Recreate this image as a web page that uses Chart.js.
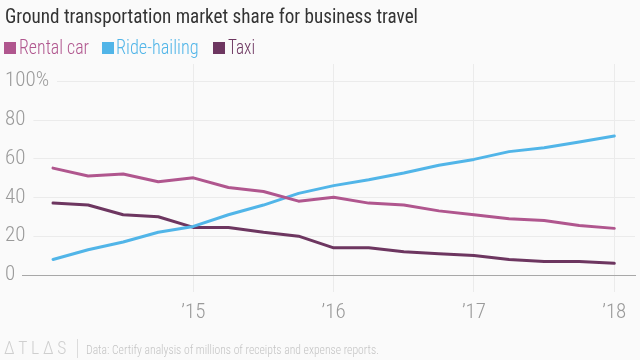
<!DOCTYPE html>
<html><head><meta charset="utf-8">
<script src="https://cdn.jsdelivr.net/npm/chart.js@4.4.1/dist/chart.umd.min.js"></script>
<style>
html,body{margin:0;padding:0;background:#fafafa;}
#wrap{position:relative;width:640px;height:360px;overflow:hidden;font-family:'Roboto Condensed','Roboto',sans-serif;background:#fafafa;}
#wrap canvas{position:absolute;left:0;top:0;}
.t{position:absolute;white-space:nowrap;transform-origin:0 0;line-height:1;}
.sq{position:absolute;width:12px;height:12px;}
</style></head><body>
<div id="wrap">
<canvas id="chart" width="640" height="360"></canvas>
<div class="t" id="title" style="left:5px;top:5.6px;font-size:21px;color:#333;">Ground transportation market share for business travel</div>
<div class="sq" style="left:4px;top:42px;background:#b0568e"></div>
<div class="t" id="lg0" style="left:19px;top:37.3px;font-size:21px;font-weight:300;color:#b0568e;">Rental car</div>
<div class="sq" style="left:101.7px;top:42px;background:#51b5e8"></div>
<div class="t" id="lg1" style="left:116.3px;top:37.3px;font-size:21px;font-weight:300;color:#51b5e8;">Ride-hailing</div>
<div class="sq" style="left:212.7px;top:42px;background:#6d3660"></div>
<div class="t" id="lg2" style="left:228px;top:37.3px;font-size:21px;font-weight:300;color:#6d3660;">Taxi</div>
<div class="t" id="logo" style="left:4px;top:338px;font-size:19px;font-weight:300;color:#cfcfcf;letter-spacing:4px;">ΔTLΔS</div>
<div style="position:absolute;left:77px;top:339px;width:1px;height:19px;background:#dcdcdc;"></div>
<div class="t" id="src" style="left:86px;top:342.5px;font-size:13px;font-weight:300;color:#c4c4c4;">Data: Certify analysis of millions of receipts and expense reports.</div>
</div>
<script>
// ---- data ----
const quarters = ['2014 Q1','2014 Q2','2014 Q3','2014 Q4','2015 Q1','2015 Q2','2015 Q3','2015 Q4','2016 Q1','2016 Q2','2016 Q3','2016 Q4','2017 Q1','2017 Q2','2017 Q3','2017 Q4','2018 Q1'];
const rentalCar   = [55, 51, 52, 48, 50, 45, 43, 38, 40, 37, 36, 33, 31, 29, 28, 25.5, 24];
const rideHailing = [8, 13, 17, 22, 25, 31, 36, 42, 46, 49, 52.5, 56.5, 59.5, 63.5, 65.5, 68.5, 71.5];
const taxi        = [37, 36, 31, 30, 24.5, 24.5, 22, 20, 14, 14, 12, 11, 10, 8, 7, 7, 6];
const yTicks = [0, 20, 40, 60, 80, 100];
const xTickLabels = ['\u201915', '\u201916', '\u201917', '\u201918'];
const xTickIndex = quarters.map((q, i) => (i > 0 && q.endsWith('Q1')) ? i : -1).filter(i => i >= 0);

const seriesNames = ['Rental car', 'Ride-hailing', 'Taxi'];
const seriesColors = ['#b0568e', '#51b5e8', '#6d3660'];
const seriesValues = [rentalCar, rideHailing, taxi];

function fit(id, w) {
  const el = document.getElementById(id);
  el.style.transform = 'none';
  const r = el.getBoundingClientRect().width;
  el.style.transform = 'scaleX(' + (w / r) + ')';
}

const tickFont = { family: "'Roboto Condensed', Roboto, sans-serif", size: 21, weight: '300' };
const yLabel = (v) => v === 100 ? '100%' : String(v);

const yGridPlugin = {
  id: 'yGrid',
  beforeDatasetsDraw(chart) {
    const y = chart.scales.y, ctx = chart.ctx, area = chart.chartArea;
    ctx.save();
    ctx.strokeStyle = '#ebebeb';
    ctx.lineWidth = 1;
    ctx.font = "300 21px 'Roboto Condensed'";
    y.ticks.forEach(t => {
      if (t.value === 0) return;
      const py = Math.round(y.getPixelForValue(t.value)) + 0.5;
      const x0 = 5 + ctx.measureText(yLabel(t.value)).width + 8;
      ctx.beginPath(); ctx.moveTo(x0, py); ctx.lineTo(area.right, py); ctx.stroke();
    });
    ctx.restore();
  }
};

function build() {
  fit('title', 413);
  fit('lg0', 70);
  fit('lg1', 82.7);
  fit('lg2', 27);
  fit('logo', 66);
  fit('src', 293);
  new Chart(document.getElementById('chart'), {
    type: 'line',
    data: {
      datasets: seriesValues.map((vals, k) => ({
        label: seriesNames[k],
        data: vals.map((v, i) => ({ x: i, y: v })),
        borderColor: seriesColors[k],
        backgroundColor: seriesColors[k],
        borderWidth: 3,
        pointRadius: 0,
        tension: 0,
        borderJoinStyle: 'round',
        borderCapStyle: 'round',
        fill: false
      }))
    },
    options: {
      responsive: false,
      animation: false,
      devicePixelRatio: 1,
      layout: { padding: { left: 22, right: 5, top: 64, bottom: 0 } },
      plugins: { legend: { display: false }, tooltip: { enabled: false }, title: { display: false } },
      scales: {
        x: {
          type: 'linear',
          min: -0.884,
          max: 16.59,
          afterFit(s) { s.height = 85; },
          afterBuildTicks(s) { s.ticks = xTickIndex.map(v => ({ value: v })); },
          ticks: {
            autoSkip: false, maxRotation: 0, padding: 8, color: '#9a9a9a', font: tickFont,
            callback: (v) => xTickLabels[xTickIndex.indexOf(v)]
          },
          grid: { color: '#ebebeb', tickColor: '#ebebeb', tickLength: 17, lineWidth: 1 },
          border: { display: true, color: '#a8a8a8', width: 1 }
        },
        y: {
          type: 'linear',
          min: 0,
          max: 108.6,
          afterFit(s) { s.width = 0; },
          afterBuildTicks(s) { s.ticks = yTicks.map(v => ({ value: v })); },
          ticks: {
            mirror: true, crossAlign: 'near', padding: -17, color: '#9a9a9a', font: tickFont,
            callback: (v) => yLabel(v)
          },
          grid: { display: false },
          border: { display: false }
        }
      }
    },
    plugins: [yGridPlugin]
  });
}

Promise.all([
  document.fonts.load("21px 'Roboto Condensed'"),
  document.fonts.load("300 21px 'Roboto Condensed'"),
  document.fonts.load("300 13px 'Roboto Condensed'")
]).then(build, build);
</script>
</body></html>
